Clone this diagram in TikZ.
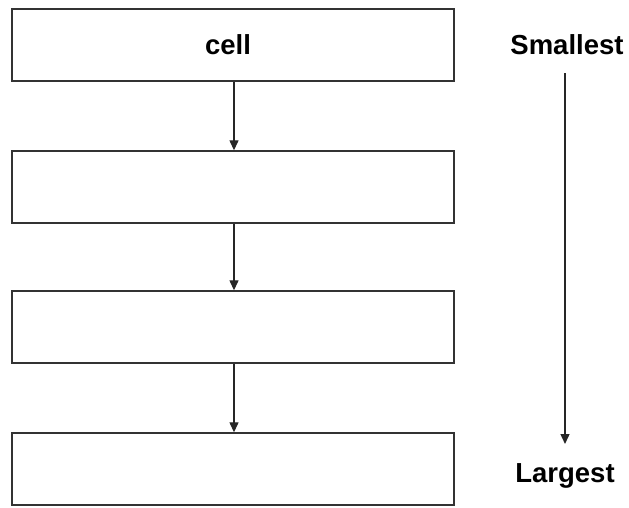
\documentclass[tikz,border=0pt]{standalone}
\usepackage{fontspec}
\setmainfont{Liberation Sans}
\usetikzlibrary{arrows.meta}
\begin{document}
\begin{tikzpicture}[x=1pt,y=-1pt,
  levelbox/.style={draw=black!80, line width=1.4pt, minimum width=442pt, minimum height=72pt, inner sep=0pt, fill=white},
  lbl/.style={font=\fontsize{27.5}{30}\selectfont\bfseries, inner sep=0pt},
  conn/.style={draw=black!85, line width=1.3pt, -{Triangle[length=10pt,width=9pt]}}
]
\useasboundingbox (0,0) rectangle (629,507);
\node[levelbox] (b1) at (233,45) {};
\node[lbl] at (228,45) (t1) {cell};
\node[levelbox] (b2) at (233,187) {};
\node[levelbox] (b3) at (233,327) {};
\node[levelbox] (b4) at (233,469) {};
\draw[conn] (b1.south -| 234,0) -- (b2.north -| 234,0);
\draw[conn] (b2.south -| 234,0) -- (b3.north -| 234,0);
\draw[conn] (b3.south -| 234,0) -- (b4.north -| 234,0);
\node[lbl] (sm) at (567,45) {Smallest};
\node[lbl] (lg) at (565,476) {Largest};
\coordinate (r1) at (565,73);
\coordinate (r2) at (565,444);
\draw[conn] (r1) -- (r2);
\end{tikzpicture}
\end{document}
